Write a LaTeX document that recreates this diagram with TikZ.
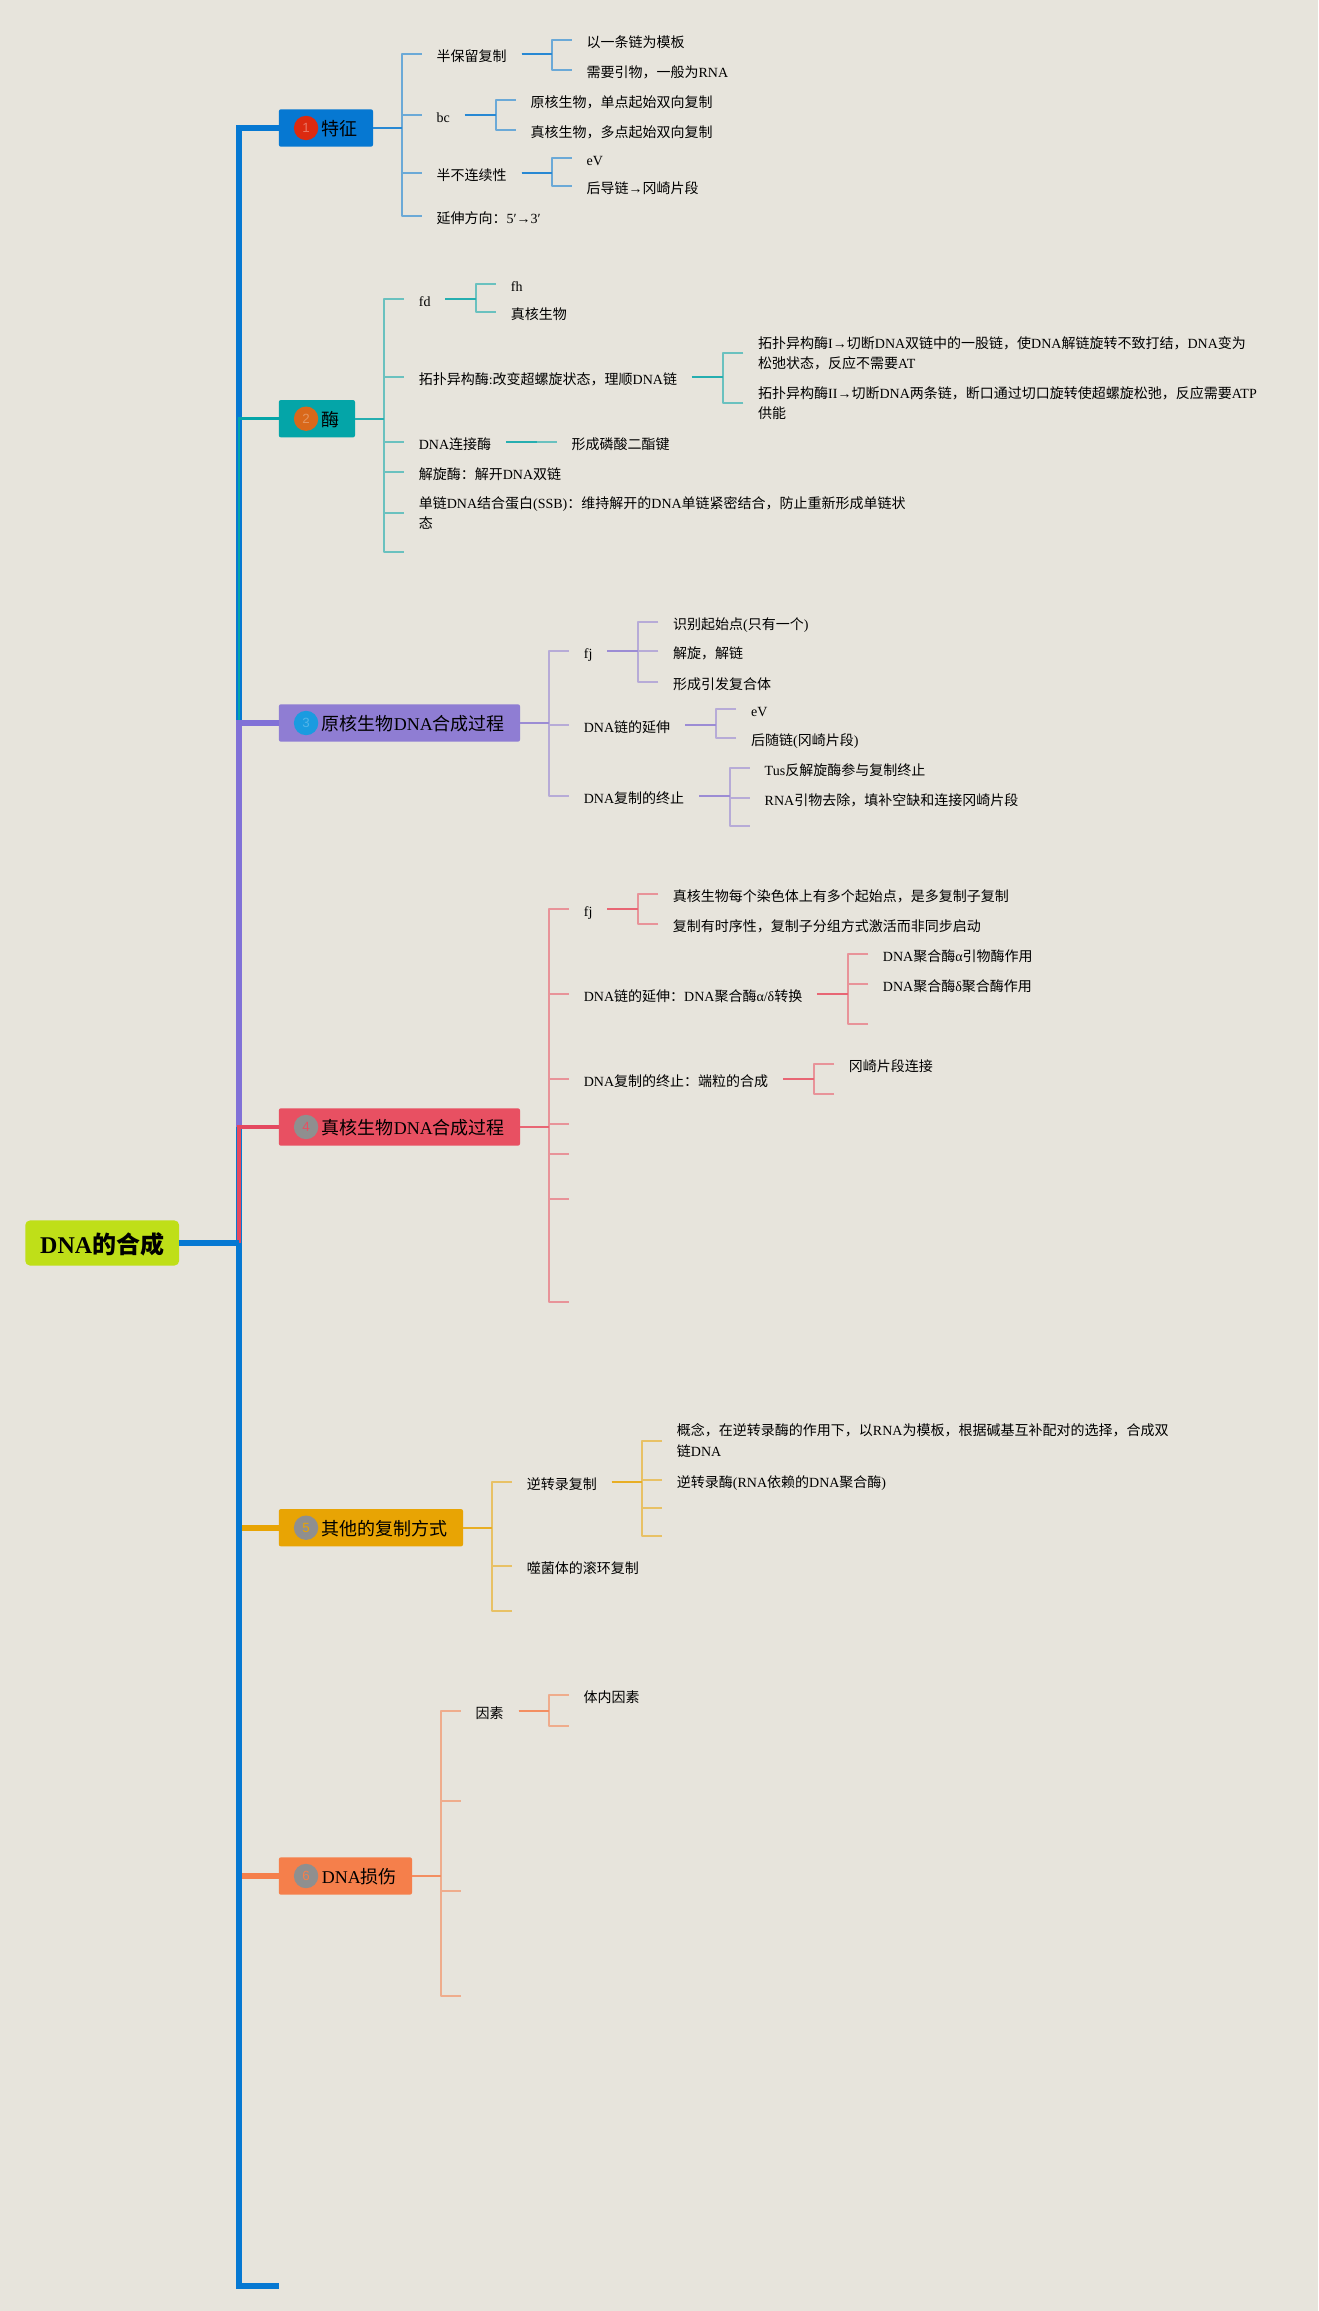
\documentclass[tikz,border=0pt]{standalone}
\usepackage{fontspec}
\setmainfont{Liberation Serif}
\newfontfamily\cjkfont{Noto Sans CJK SC}
\newfontfamily\digitfont{Liberation Sans}
% han characters switch to the cjk font by themselves
\XeTeXinterchartokenstate=1
\newXeTeXintercharclass\hanclass
\newcount\hanpos
\hanpos=0
\loop\ifnum\hanpos<"3000 \XeTeXcharclass\hanpos=0 \advance\hanpos by 1 \repeat
\loop\ifnum\hanpos<"A000 \XeTeXcharclass\hanpos=\hanclass \advance\hanpos by 1 \repeat
\XeTeXcharclass"FF0C=\hanclass
\XeTeXcharclass"FF1A=\hanclass
\XeTeXinterchartoks 0 \hanclass={\begingroup\cjkfont}
\XeTeXinterchartoks 4095 \hanclass={\begingroup\cjkfont}
\XeTeXinterchartoks \hanclass 0={\endgroup}
\XeTeXinterchartoks \hanclass 4095={\endgroup}
\definecolor{paper}{HTML}{E7E4DC}
\definecolor{rootc}{HTML}{BFDF18}
\definecolor{bluec}{HTML}{0678D2}
\definecolor{tealc}{HTML}{04A5A8}
\definecolor{purpc}{HTML}{8F7DD3}
\definecolor{redc}{HTML}{E85062}
\definecolor{yelc}{HTML}{E8A404}
\definecolor{orac}{HTML}{F57F4B}
\definecolor{dot1}{HTML}{DC2A10}
\definecolor{dot2}{HTML}{D9681A}
\definecolor{dot3}{HTML}{1A9BE0}
\definecolor{dotg}{HTML}{8F8F8F}
\tikzset{
  txt/.style={anchor=west,inner xsep=11pt,inner ysep=0pt,font=\fontsize{10.5pt}{15.3pt}\selectfont},
  leaf/.style={txt,text height=12pt,text depth=0.5pt},
  long/.style={txt,align=left,yshift=-1pt},
  topic/.style={anchor=west,fill=#1,rounded corners=1.5pt,inner xsep=11.4pt,inner ysep=0pt,
    minimum height=28pt,text height=12.3pt,text depth=0.5pt,font=\fontsize{13.5pt}{16pt}\selectfont,
    execute at begin node=\hspace*{20.8pt}},
  badge/.style={circle,fill=#1,inner sep=0pt,minimum size=18.3pt,font=\fontsize{10pt}{10pt}\digitfont},
  twig/.style={draw=#1!55!paper,line width=1.5pt,line join=round},
  stem/.style={draw=#1!85!paper,line width=1.7pt},
  bus/.style={draw=#1,line width=4.4pt},
}
% colour, parent, children
\newcommand{\branch}[3]{
  \foreach \kid in {#3} {
    \draw[twig=#1] (\kid.west) -- ++(-20,0) |- (#2.east);
    \draw[stem=#1] (#2.east) -- ([xshift=-15pt]\kid.west |- #2.east);
  }
}
\begin{document}
\begin{tikzpicture}[x=0.75pt,y=-0.75pt]
  \useasboundingbox (0,0) rectangle (1318,2311);
  \fill[paper] (0,0) rectangle (1318,2311);

  \node[anchor=west,fill=rootc,rounded corners=3.5pt,inner xsep=11.2pt,inner ysep=0pt,minimum height=33.8pt,
    text height=15.7pt,text depth=0.5pt,font=\fontsize{18pt}{20pt}\selectfont\bfseries] (root) at (25,1243) {DNA的合成};
  \coordinate (spine) at (239,0);
  \coordinate (tail) at (279,2286);

  \node[topic=bluec] (tz) at (278.6,128) {特征};
  \node[topic=tealc] (mei) at (278.6,418.7) {酶};
  \node[topic=purpc] (yuan) at (278.6,723) {原核生物DNA合成过程};
  \node[topic=redc] (zhen) at (278.6,1127) {真核生物DNA合成过程};
  \node[topic=yelc] (qita) at (278.6,1527.7) {其他的复制方式};
  \node[topic=orac] (sun) at (278.6,1876) {DNA损伤};

  \node[badge=dot1] (b1) at ([xshift=20.6pt]tz.west) {\textcolor{dot1!65!white}{1}};
  \node[badge=dot2] (b2) at ([xshift=20.6pt]mei.west) {\textcolor{dot2!70!white}{2}};
  \node[badge=dot3] (b3) at ([xshift=20.6pt]yuan.west) {\textcolor{dot3!75!white}{3}};
  \node[badge=dotg] (b4) at ([xshift=20.6pt]zhen.west) {\textcolor{redc}{4}};
  \node[badge=dotg] (b5) at ([xshift=20.6pt]qita.west) {\textcolor{yelc}{5}};
  \node[badge=dotg] (b6) at ([xshift=20.6pt]sun.west) {\textcolor{orac}{6}};

  % spine
  \draw[bus=yelc] (qita.west) -- (qita.west -| spine);
  \draw[bus=orac] (sun.west) -- (sun.west -| spine);
  \draw[bus=bluec] (tz.west) -- (tz.west -| spine) |- (tail);
  \draw[draw=tealc,line width=2.1pt] (mei.west) -| (yuan.west -| spine);
  \draw[bus=purpc!90!blue] (yuan.west) -| (zhen.west -| spine);
  \draw[draw=redc!90!purple,line width=2.7pt] (zhen.west) -| (root.east -| spine);
  \draw[bus=bluec] (root.east) -- (root.east -| spine);

  % tezheng
  \node[leaf] (a1) at (421.7,54.3) {半保留复制};
  \node[leaf] (a2) at (421.7,115) {bc};
  \node[leaf] (a3) at (421.7,173) {半不连续性};
  \node[leaf] (a4) at (421.7,216) {延伸方向：5′→3′};
  \node[leaf] (a11) at (571.7,40) {以一条链为模板};
  \node[leaf] (a12) at (571.7,70) {需要引物，一般为RNA};
  \node[leaf] (a21) at (515.8,99.7) {原核生物，单点起始双向复制};
  \node[leaf] (a22) at (515.8,129.7) {真核生物，多点起始双向复制};
  \node[leaf] (a31) at (571.7,157.7) {eV};
  \node[leaf] (a32) at (571.7,186) {后导链→冈崎片段};
  \branch{bluec}{tz}{a1,a2,a3,a4}
  \branch{bluec}{a1}{a11,a12}
  \branch{bluec}{a2}{a21,a22}
  \branch{bluec}{a3}{a31,a32}

  % mei
  \node[leaf] (c1) at (403.9,299) {fd};
  \node[leaf] (c2) at (403.9,377) {拓扑异构酶:改变超螺旋状态，理顺DNA链};
  \node[leaf] (c3) at (403.9,442) {DNA连接酶};
  \node[leaf] (c4) at (403.9,471.7) {解旋酶：解开DNA双链};
  \node[long] (c5) at (403.9,511.7) {单链DNA结合蛋白(SSB)：维持解开的DNA单链紧密结合，防止重新形成单链状\\态};
  \coordinate (c6) at (403.9,551.7);
  \node[leaf] (c11) at (495.9,283.7) {fh};
  \node[leaf] (c12) at (495.9,312) {真核生物};
  \node[long] (c21) at (743.3,351.7) {拓扑异构酶I→切断DNA双链中的一股链，使DNA解链旋转不致打结，DNA变为\\松弛状态，反应不需要AT};
  \node[long] (c22) at (743.3,402) {拓扑异构酶II→切断DNA两条链，断口通过切口旋转使超螺旋松弛，反应需要ATP\\供能};
  \node[leaf] (c31) at (556.7,442) {形成磷酸二酯键};
  \branch{tealc}{mei}{c1,c2,c3,c4,c5,c6}
  \branch{tealc}{c1}{c11,c12}
  \branch{tealc}{c2}{c21,c22}
  \branch{tealc}{c3}{c31}

  % yuanhe
  \node[leaf] (d1) at (568.9,651.3) {fj};
  \node[leaf] (d2) at (568.9,724.7) {DNA链的延伸};
  \node[leaf] (d3) at (568.9,796) {DNA复制的终止};
  \node[leaf] (d11) at (658.3,621.7) {识别起始点(只有一个)};
  \node[leaf] (d12) at (658.3,651.3) {解旋，解链};
  \node[leaf] (d13) at (658.3,681.7) {形成引发复合体};
  \node[leaf] (d21) at (736.2,709.3) {eV};
  \node[leaf] (d22) at (736.2,738) {后随链(冈崎片段)};
  \node[leaf] (d31) at (749.8,767.7) {Tus反解旋酶参与复制终止};
  \node[leaf] (d32) at (749.8,797.7) {RNA引物去除，填补空缺和连接冈崎片段};
  \coordinate (d33) at (749.8,826);
  \branch{purpc}{yuan}{d1,d2,d3}
  \branch{purpc}{d1}{d11,d12,d13}
  \branch{purpc}{d2}{d21,d22}
  \branch{purpc}{d3}{d31,d32,d33}

  % zhenhe
  \node[leaf] (e1) at (568.9,908.7) {fj};
  \node[leaf] (e2) at (568.9,993.7) {DNA链的延伸：DNA聚合酶α/δ转换};
  \node[leaf] (e3) at (568.9,1078.7) {DNA复制的终止：端粒的合成};
  \foreach \n/\y in {e4/1123.7,e5/1153.7,e6/1198.7,e7/1301.7} {
    \coordinate (\n) at (568.9,\y);
  }
  \node[leaf] (e11) at (658,893.7) {真核生物每个染色体上有多个起始点，是多复制子复制};
  \node[leaf] (e12) at (658,923.7) {复制有时序性，复制子分组方式激活而非同步启动};
  \node[leaf] (e21) at (868,953.7) {DNA聚合酶α引物酶作用};
  \node[leaf] (e22) at (868,983.7) {DNA聚合酶δ聚合酶作用};
  \coordinate (e23) at (868,1024);
  \node[leaf] (e31) at (834,1063.7) {冈崎片段连接};
  \coordinate (e32) at (834,1093.7);
  \branch{redc}{zhen}{e1,e2,e3,e4,e5,e6,e7}
  \branch{redc}{e1}{e11,e12}
  \branch{redc}{e2}{e21,e22,e23}
  \branch{redc}{e3}{e31,e32}

  % qita
  \node[leaf] (f1) at (512,1482.3) {逆转录复制};
  \node[leaf] (f2) at (512,1565.7) {噬菌体的滚环复制};
  \coordinate (f3) at (512,1610.7);
  \node[long] (f11) at (662,1439.3) {概念，在逆转录酶的作用下，以RNA为模板，根据碱基互补配对的选择，合成双\\链DNA};
  \node[leaf] (f12) at (662,1479.7) {逆转录酶(RNA依赖的DNA聚合酶)};
  \coordinate (f13) at (662,1507.7);
  \coordinate (f14) at (662,1535.7);
  \branch{yelc}{qita}{f1,f2,f3}
  \branch{yelc}{f1}{f11,f12,f13,f14}

  % sunshang
  \node[leaf] (g1) at (460.7,1711) {因素};
  \foreach \n/\y in {g2/1801,g3/1890.7,g4/1996} {
    \coordinate (\n) at (460.7,\y);
  }
  \node[leaf] (g11) at (568.7,1695.3) {体内因素};
  \coordinate (g12) at (568.7,1726);
  \branch{orac}{sun}{g1,g2,g3,g4}
  \branch{orac}{g1}{g11,g12}
\end{tikzpicture}
\end{document}
